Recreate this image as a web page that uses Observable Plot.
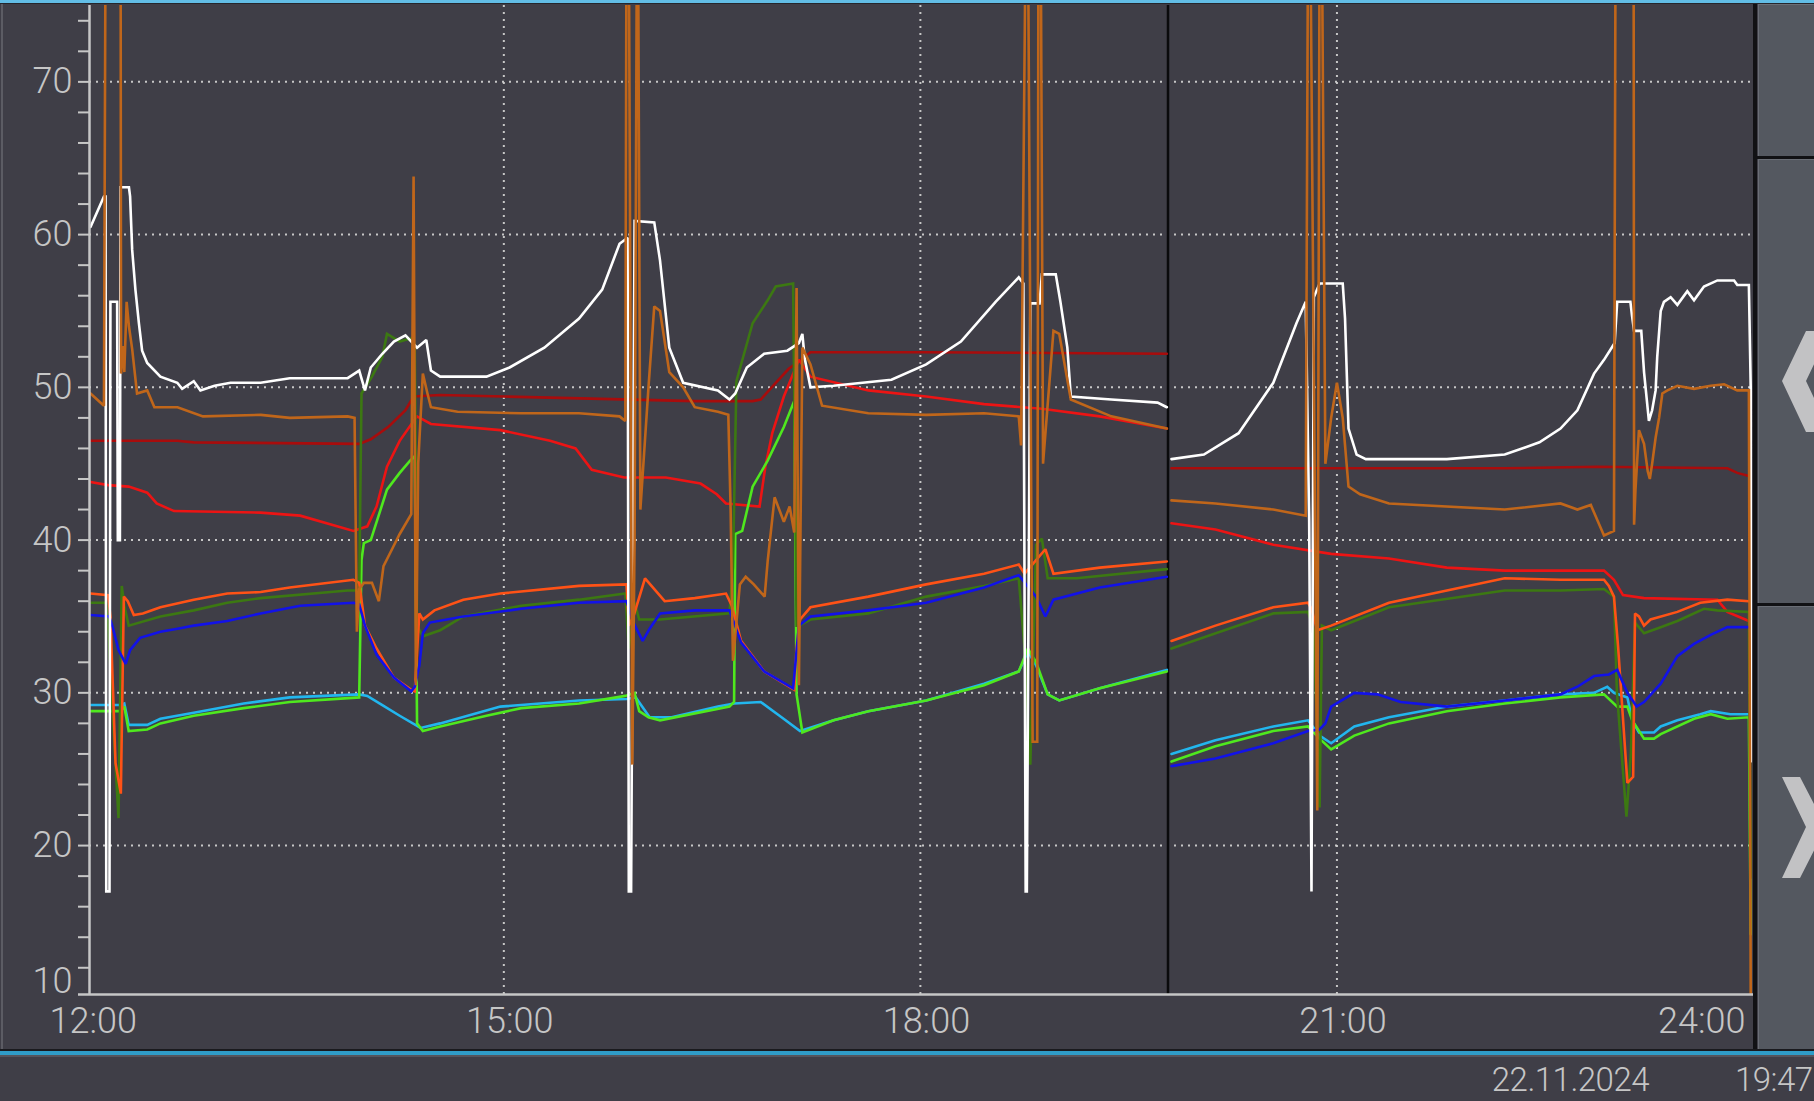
<!DOCTYPE html>
<html><head><meta charset="utf-8">
<script src="https://cdn.jsdelivr.net/npm/d3@7"></script>
<script src="https://cdn.jsdelivr.net/npm/@observablehq/plot@0.6"></script>
<style>
html,body{margin:0;padding:0;}
body{background:#3f3e47;width:1814px;height:1101px;overflow:hidden;position:relative;font-family:Roboto,"Liberation Sans",sans-serif;}
#topline{position:absolute;left:0;top:0;width:1814px;height:3px;background:#62bde6;}
#topline2{position:absolute;left:0;top:3px;width:1814px;height:1px;background:#26262c;}
#leftline{position:absolute;left:1px;top:4px;width:2px;height:1046px;background:#5c5c64;}
#chart{position:absolute;left:0;top:0;}
#nowsep{position:absolute;left:1753px;top:4px;width:4px;height:1046px;background:#111114;}
.btn{position:absolute;left:1758px;width:56px;background:#545860;box-shadow:inset 1px 1px 0 #6a6e76;}
.sep{position:absolute;left:1757px;width:57px;height:3px;background:#111114;}
#status{position:absolute;left:0;top:1049px;width:1814px;height:52px;background:#3f3e47;}
#status .l1{position:absolute;left:0;top:0;width:1814px;height:2px;background:#1a1a1e;}
#status .l2{position:absolute;left:0;top:2px;width:1814px;height:4px;background:#2f9cc8;}
#status .l3{position:absolute;left:0;top:6px;width:1814px;height:2px;background:#55555d;}
#status span{position:absolute;top:11px;font-size:33px;color:#c6c6c6;font-weight:300;letter-spacing:-0.5px;}
#chev{position:absolute;left:0;top:0;}
</style></head>
<body>
<div id="chart"></div>
<div id="topline"></div><div id="topline2"></div><div id="leftline"></div>
<div id="nowsep"></div>
<div class="btn" style="top:4px;height:152px"></div>
<div class="sep" style="top:156px"></div>
<div class="btn" style="top:159px;height:444px"></div>
<div class="sep" style="top:603px"></div>
<div class="btn" style="top:606px;height:443px"></div>
<svg id="chev" width="1814" height="1101"><polygon points="1782,381 1806,331 1830,331 1806,381 1830,432 1806,432" fill="#c2c2c4"/><polygon points="1782,777 1800,777 1826,827 1800,878 1782,878 1806,827" fill="#c2c2c4"/></svg>
<div id="status"><div class="l1"></div><div class="l2"></div><div class="l3"></div>
<span id="date" style="right:165px">22.11.2024</span><span id="time" style="left:1735px">19:47</span></div>
<script>
// time in minutes after 12:00, value
const white = [[1.4,60.5],[7.2,62.5],[7.9,62.5],[8.2,17],[9.6,17],[10,55.6],[12.9,55.6],[13.2,40],[14.1,40],[14.4,63.1],[18,63.1],[18.5,62.5],[19.4,59.0],[20.8,56.4],[22.3,54.2],[23.7,52.4],[25.9,51.6],[31.6,50.7],[38.9,50.3],[41,49.9],[46,50.4],[48.9,49.8],[55,50.1],[61.9,50.3],[74.9,50.3],[87.5,50.6],[112.5,50.6],[117.5,51.1],[120,49.8],[122.5,51.3],[127.5,52.2],[132.5,53.0],[137.5,53.4],[142.5,52.6],[146.5,53.1],[148.5,51.1],[152.5,50.7],[172.5,50.7],[182.5,51.3],[197.5,52.6],[212.5,54.5],[222.5,56.4],[230,59.4],[233.5,59.8],[234,17],[235,17],[236.5,60.9],[245,60.8],[247.5,58.3],[251.5,52.6],[257.5,50.3],[272.5,49.8],[277.5,49.2],[280,49.6],[285,51.3],[292.5,52.2],[302.5,52.4],[307.5,52.9],[309,53.5],[310,51.9],[312.5,50.0],[322.5,50.1],[347.5,50.5],[362.5,51.5],[377.5,53.0],[392.5,55.6],[402.5,57.2],[404.5,56.8],[405.5,17],[406,17],[407.5,55.5],[411.5,55.5],[412.5,57.4],[418.5,57.4],[420.5,55.6],[423.5,52.6],[425,49.4],[442.5,49.2],[462.5,49.0],[466.5,48.7],
[467,null],
[468.5,45.3],[482.5,45.6],[497.5,47.0],[512.5,50.3],[522.5,54.2],[526.5,55.6],[528,41.3],[529,17],[530,55.9],[532.5,56.8],[542.5,56.8],[543.5,54.5],[545,47.3],[548.5,45.6],[552.5,45.3],[587.5,45.3],[612.5,45.6],[627.5,46.4],[636.6,47.3],[643.9,48.5],[651.1,50.9],[655.4,51.8],[660,52.9],[661.1,55.6],[666.8,55.6],[667.5,54.7],[668.4,53.7],[671.5,53.7],[672.7,51],[674.8,47.8],[676.2,48.5],[677.7,49.8],[678.4,52],[679.9,55.0],[681.3,55.6],[684.2,55.9],[687.1,55.4],[691.4,56.3],[694.3,55.7],[698.6,56.6],[704.4,57.0],[711.6,57.0],[713,56.7],[718,56.7],[718.8,50.0],[718.8,25.5]];

const orange = [[1.4,49.6],[7.2,48.8],[7.9,80],[14.4,80],[14.6,50.9],[15.5,52.7],[16,51],[17,55.6],[18,54],[19.4,52.5],[21.5,49.6],[25.9,49.8],[29,48.7],[39,48.7],[50,48.1],[75,48.2],[87.5,48.0],[112.5,48.1],[115.5,48.0],[116.5,34],[117.5,36.8],[119.5,37.2],[123,37.2],[126,36.0],[128,38.3],[132,39.5],[135,40.4],[140,41.7],[141,63.8],[142,30.5],[143,45],[145,50.9],[147,49.6],[148.5,48.7],[160,48.4],[187.5,48.3],[212.5,48.3],[230,48.1],[232.5,47.8],[233,80],[234,80],[235.5,25.3],[236.5,40],[237.5,80],[238,80],[239,42],[242.5,50],[245,55.3],[247.5,55.0],[251.5,51.0],[257.5,50.0],[262.5,48.7],[272.5,48.4],[277,48.2],[278,42],[279,32.1],[282,37.1],[284.5,37.6],[288,37.1],[292.7,36.3],[294,38.6],[297,42.8],[301,41.2],[303.5,42.2],[305.5,40.5],[306.5,56.5],[307.5,30.5],[309,52.6],[312.5,51.5],[317.5,48.8],[337.5,48.3],[362.5,48.2],[387.5,48.3],[402.5,48.1],[403.5,46.2],[405.5,80],[406.5,80],[408.5,26.8],[410.5,26.8],[411,80],[412,80],[413,45],[417.5,53.7],[420,53.5],[425,49.2],[442.5,48.1],[466.5,47.3],
[467,null],
[468.5,42.6],[487.5,42.4],[512.5,42.0],[526.5,41.6],[527.5,80],[528.5,80],[531.5,22.3],[532.5,80],[533.5,80],[535,45],[537.5,48],[540,50.3],[542.5,48],[545,43.5],[550,43.0],[562.5,42.4],[612.5,42.0],[636.6,42.4],[643.9,42.0],[649.7,42.3],[651.1,41.8],[655.4,40.3],[659.7,40.6],[660.4,80],[668.2,80],[668.4,41],[669,43.3],[670.5,47.2],[672.7,46.3],[674.3,44.5],[675.2,44.0],[676.2,45.0],[677.7,46.7],[679.2,48.0],[680.6,49.6],[682.8,49.8],[687.1,50.1],[694.3,49.9],[701.5,50.1],[707.3,50.2],[713,49.8],[718,49.8],[718.8,10]];

const darkRed = [[1.4,46.5],[38.9,46.5],[46,46.4],[117.5,46.3],[122.5,46.6],[130,47.4],[137.5,48.5],[141,49.4],[152.5,49.5],[180,49.4],[262.5,49.1],[287.5,49.1],[291,49.2],[297.5,50.3],[303,51.2],[307.5,51.7],[312.5,52.3],[362.5,52.3],[466.5,52.2],
[467,null],
[468.5,44.7],[612.5,44.7],[652.5,44.8],[708.7,44.7],[713,44.4],[718,44.2]];

const red = [[1.4,43.8],[9,43.6],[17.9,43.5],[25.9,43.1],[30,42.4],[37.5,41.9],[74.9,41.8],[92,41.6],[115,40.6],[121,40.9],[125,42.2],[129.5,44.8],[135,46.5],[141,47.8],[142.5,48.1],[148.5,47.6],[178.5,47.2],[200,46.5],[211,46.0],[218,44.6],[232,44.1],[250,44.1],[265,43.7],[272,43.0],[276,42.4],[290.5,42.2],[293,44.8],[296,47.0],[301,49.4],[307.5,51.8],[312.5,50.7],[337.5,49.8],[362.5,49.4],[387.5,48.9],[412.5,48.6],[437.5,48.1],[466.5,47.3],
[467,null],
[468.5,41.1],[487.5,40.7],[512.5,39.7],[537.5,39.1],[562.5,38.8],[587.5,38.2],[612.5,38.0],[636.6,38.0],[655.4,38.0],[659.7,37.4],[663.6,36.4],[672.7,36.2],[704.4,36.1],[708.7,35.3],[718,34.7]];

const orangeRed = [[1.4,36.5],[9,36.4],[10,35],[12.2,25.4],[14.5,23.4],[15.8,36.3],[17.5,36],[20.1,35.1],[24,35.2],[31.6,35.6],[46,36.1],[60.5,36.5],[74.9,36.6],[87.5,36.9],[115,37.4],[117.5,37.2],[120,34.4],[125,32.9],[132.5,31.0],[140,30.2],[141.5,30.1],[143.5,35.2],[145,34.8],[150,35.4],[162.5,36.1],[178.5,36.5],[212.5,37.0],[233,37.1],[234,34.4],[236,35],[241,37.5],[249.5,36.0],[262.5,36.2],[276,36.5],[278.5,35.7],[282.5,33.4],[292.5,31.4],[305.5,30.2],[306.5,33],[308,34.8],[312.5,35.6],[337.5,36.3],[362.5,37.1],[387.5,37.8],[402.5,38.4],[405,37.8],[414,39.4],[417.5,37.8],[437.5,38.2],[466.5,38.6],
[467,null],
[468.5,33.4],[487.5,34.4],[512.5,35.6],[527.5,35.9],[529,35.5],[531.5,34.1],[537.5,34.4],[562.5,35.9],[587.5,36.7],[612.5,37.5],[636.6,37.4],[655.4,37.4],[657.5,37.0],[659.7,36.3],[661.5,33],[665.5,24.1],[668,24.5],[668.8,35.2],[670.5,35.0],[672.7,34.4],[675.5,34.8],[687.1,35.3],[697,35.9],[708.7,36.1],[718,36.0]];

const darkGreen = [[1.4,35.9],[8,35.9],[9,34.7],[10.5,30],[13.5,21.8],[14.9,37.0],[16,35.7],[17.9,34.4],[31.6,35.0],[46,35.4],[60.5,35.9],[74.9,36.2],[112.5,36.7],[117.5,36.7],[118.5,49.6],[123,50.7],[127.5,52],[129.5,53.5],[135,53.0],[139.5,53.2],[141.5,52.8],[142.5,34.4],[145,33.7],[152.5,34.1],[162.5,35.0],[187.5,35.7],[212.5,36.1],[232.5,36.5],[234,32.9],[236.5,35.9],[238.5,34.8],[247.5,34.8],[277.5,35.2],[279,38.2],[280.5,50.4],[287.5,54.2],[294,55.7],[297.5,56.6],[305,56.8],[306.5,34.4],[307.5,34.4],[312.5,34.8],[337.5,35.2],[362.5,36.3],[387.5,37.0],[402.5,37.5],[405,32.9],[407.5,25.3],[410,39.7],[412.5,40.1],[415,37.5],[427.5,37.5],[466.5,38.1],
[467,null],
[468.5,32.9],[512.5,35.2],[527.5,35.3],[530,34.1],[532.5,22.5],[533.5,34.4],[537.5,34.1],[562.5,35.6],[612.5,36.7],[636.6,36.7],[655.4,36.8],[659.7,36.3],[661,30],[665.1,21.9],[667,26],[668.8,34.6],[672.7,33.9],[679.9,34.3],[687.1,34.7],[698.6,35.5],[704.4,35.4],[718,35.3],[718.8,17.9]];

const blue = [[1.4,35.1],[9.5,35.0],[11,34.3],[13.5,32.8],[16.6,31.9],[18.5,32.8],[22.8,33.6],[31.6,34.0],[39,34.2],[46,34.4],[60.5,34.7],[74.9,35.2],[92,35.7],[115,35.9],[117.5,35.8],[120,34.4],[125,32.5],[132.5,31.0],[140,30.1],[141.5,30.4],[143.5,31.8],[145,33.9],[148,34.6],[162.5,35.0],[187.5,35.5],[212.5,35.9],[233,36.0],[236,34.6],[240,33.4],[243,34.2],[247.5,35.2],[262.5,35.4],[277.5,35.4],[282.5,33.3],[292.5,31.4],[305,30.3],[307.5,34.4],[312.5,35.0],[337.5,35.4],[362.5,35.9],[387.5,36.9],[402.5,37.7],[410,36.3],[414,35.0],[417.5,36.1],[437.5,36.9],[466.5,37.6],
[467,null],
[468.5,25.2],[487.5,25.7],[512.5,26.7],[527.5,27.5],[532.5,27.6],[535,28.0],[537.5,29.1],[547.5,30.0],[557.5,29.9],[567.5,29.4],[587.5,29.1],[612.5,29.5],[636.6,29.9],[643.9,30.4],[651.1,31.1],[657.5,31.2],[661.1,31.5],[665.5,30.0],[669.5,29.1],[672.7,29.4],[679.9,30.6],[687.1,32.4],[694.3,33.2],[701.5,33.8],[708.7,34.3],[718,34.3]];

const cyan = [[1.4,29.2],[14.4,29.2],[16,29.3],[17.9,27.9],[25.9,27.9],[31.6,28.3],[46,28.7],[67.6,29.3],[87.5,29.7],[117.5,29.9],[121,29.8],[127.5,29.2],[135,28.5],[144,27.7],[152.5,28.0],[178.5,29.1],[212.5,29.5],[233,29.6],[237,29.7],[243,28.4],[252.5,28.4],[272.5,29.1],[279.5,29.3],[291,29.4],[300,28.4],[308,27.5],[322.5,28.2],[337.5,28.8],[362.5,29.5],[387.5,30.6],[402.5,31.4],[406.5,32.7],[410,31.8],[415,29.9],[420,29.5],[437.5,30.3],[466.5,31.5],
[467,null],
[468.5,26.0],[487.5,26.9],[512.5,27.8],[527.5,28.2],[532.5,27.2],[537.5,26.7],[547.5,27.8],[562.5,28.4],[587.5,29.1],[612.5,29.5],[636.6,29.9],[651.1,30.0],[656.8,30.4],[659.7,30.0],[665.5,29.7],[667.6,28.2],[670.5,27.4],[677,27.4],[679.9,27.8],[687.1,28.2],[697,28.6],[701.5,28.8],[710,28.6],[718,28.6]];

const green = [[1.4,28.8],[14.4,28.8],[16,29.1],[17.9,27.5],[25.9,27.6],[31.6,28.0],[46,28.5],[67.6,29.0],[87.5,29.4],[117.5,29.7],[118.5,38.7],[119.5,39.8],[122.5,40.0],[129.5,43.3],[135,44.4],[139.5,45.2],[141.5,45.5],[142.5,28.0],[145,27.5],[152.5,27.8],[172.5,28.5],[187.5,29.0],[212.5,29.3],[232.5,29.8],[236.5,30.0],[238.5,28.8],[242.5,28.4],[247.5,28.2],[277.5,29.1],[279.5,29.4],[280,40.4],[283,40.6],[287.5,43.5],[294,45.2],[301,47.4],[305.5,49.1],[306.5,29.9],[309,27.4],[322.5,28.2],[337.5,28.8],[362.5,29.5],[387.5,30.5],[402.5,31.4],[406.5,32.9],[410,32.0],[415,29.9],[420,29.5],[437.5,30.3],[466.5,31.4],
[467,null],
[468.5,25.5],[487.5,26.5],[512.5,27.5],[527.5,27.8],[532.5,27.0],[537.5,26.3],[547.5,27.2],[562.5,28.0],[587.5,28.8],[612.5,29.3],[636.6,29.7],[655.4,29.9],[661.1,29.1],[665.5,29.1],[667.6,28.2],[672.7,27.0],[677,27.0],[679.9,27.3],[694.3,28.3],[701.5,28.6],[708.7,28.3],[718,28.4],[718.8,14.2]];

const yTickValues = d3.range(12, 76, 2);
const yLabelValues = [20, 30, 40, 50, 60, 70];
const yBottomLabel = [10];
const yGridValues = [20, 30, 40, 50, 60, 70];
const xLabelValues = [12, 15, 18, 21];
const xEndLabel = [24];
const xGridValues = [15, 18, 21];
const nowTime = [19 + 47/60];
const xDomain = [12.016, 24];
const yDomain = [10.25, 75.0];

const seriesList = [
  [darkRed, "#a80c0c"],
  [red, "#ec1414"],
  [cyan, "#22b6ee"],
  [green, "#4fe81e"],
  [darkGreen, "#3c7812"],
  [orangeRed, "#ff5216"],
  [blue, "#1212e8"],
  [white, "#ffffff"],
  [orange, "#c0661a"]
];

const fmtH = h => `${h}:00`;
const grey = "#c6c6c6";
const font = {fontFamily: "Roboto, 'Liberation Sans', sans-serif", fontWeight: 300};

const chart = Plot.plot({
  width: 1814, height: 1050,
  marginLeft: 89, marginRight: 61, marginTop: 5, marginBottom: 56,
  x: {domain: xDomain, axis: null},
  y: {domain: yDomain, axis: null},
  style: {background: "transparent", color: grey, fontFamily: font.fontFamily, fontSize: "36px", overflow: "visible"},
  marks: [
    Plot.gridY(yGridValues, {stroke: "#cfcfcf", strokeOpacity: 0.95, strokeWidth: 2, strokeDasharray: "2,5"}),
    Plot.gridX(xGridValues, {stroke: "#cfcfcf", strokeOpacity: 0.95, strokeWidth: 2, strokeDasharray: "2,5"}),
    Plot.ruleX(nowTime, {stroke: "#0a0a0c", strokeWidth: 2.5}),
    ...seriesList.map(([data, color]) => Plot.line(data, {
      x: d => 12 + d[0] / 60,
      y: d => d[1] == null ? NaN : d[1],
      stroke: color, strokeWidth: 2.6, clip: true, strokeLinejoin: "miter", strokeMiterlimit: 2
    })),
    Plot.axisY(yTickValues, {tickSize: 11, tickFormat: () => "", label: null, stroke: grey, strokeWidth: 2, strokeOpacity: 1}),
    Plot.ruleX([xDomain[0]], {stroke: grey, strokeWidth: 2.5}),
    Plot.ruleY([yDomain[0]], {stroke: grey, strokeWidth: 2.5, insetLeft: -11}),
    Plot.text(yLabelValues, {y: d => d, text: d => String(d), frameAnchor: "left", textAnchor: "end", dx: -17, fill: grey, fontSize: 36, fontWeight: 300}),
    Plot.text(yBottomLabel, {y: d => d, text: d => String(d), frameAnchor: "left", textAnchor: "end", dx: -17, dy: -17, fill: grey, fontSize: 36, fontWeight: 300}),
    Plot.text(xLabelValues, {x: d => d, text: fmtH, frameAnchor: "bottom", lineAnchor: "top", dy: 13, dx: 6, fill: grey, fontSize: 36, fontWeight: 300}),
    Plot.text(xEndLabel, {x: d => d, text: fmtH, frameAnchor: "bottom", lineAnchor: "top", dy: 13, dx: -8, textAnchor: "end", fill: grey, fontSize: 36, fontWeight: 300})
  ]
});
document.getElementById("chart").appendChild(chart);
</script>
</body></html>
